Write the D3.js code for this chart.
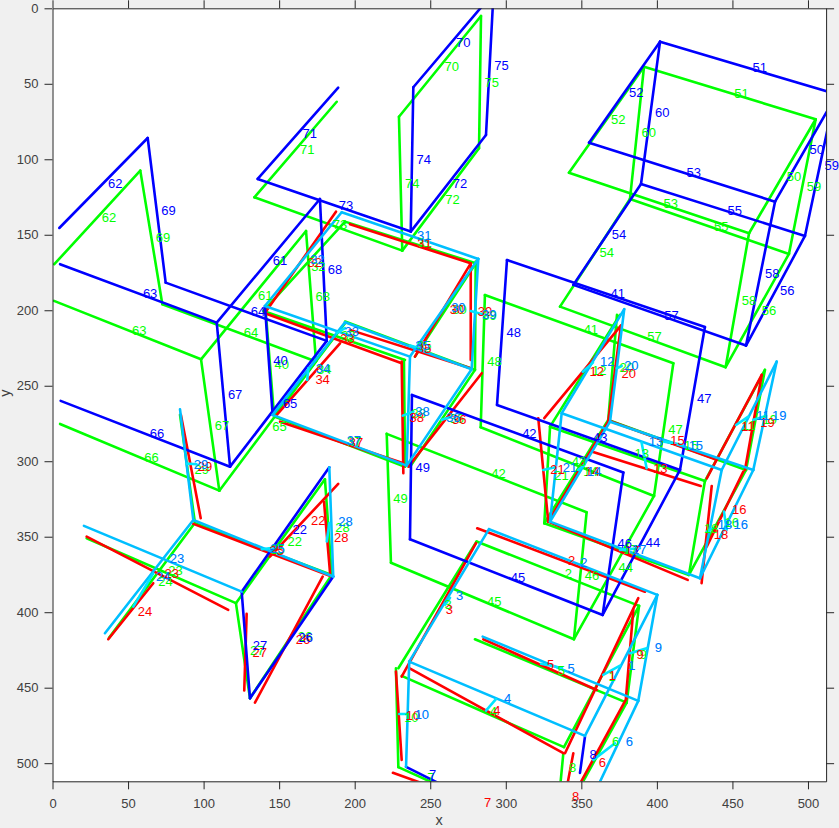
<!DOCTYPE html>
<html>
<head>
<meta charset="utf-8">
<script src="https://cdn.jsdelivr.net/npm/d3@7"></script>
<style>
  html, body { margin: 0; padding: 0; background: #f0f0f0; overflow: hidden; }
  text { font-family: "Liberation Sans", Arial, sans-serif; }
  .axis text { font-size: 13px; fill: #404040; }
  .axis path, .axis line { stroke: #262626; stroke-width: 1; }
  .num { font-size: 13px; }
</style>
</head>
<body>
<svg id="viz_area" width="839" height="828"></svg>
<script>
// every row: label, x1, y1, x2, y2 in image coordinates
const greenSegments = [
  [1,338.5,489.4,388.2,395.8],[2,280.7,353.2,388.2,395.8],[3,280.7,353.2,228.9,437.1],
  [4,231.1,442.2,338.5,489.4],[5,279.6,417.9,380,459.9],[6,380,459.9,351.3,511.9],
  [7,228.9,502.6,257.8,515.7],[8,338.1,493.4,336.3,512.2],[9,388.2,395.8,380,459.9],
  [10,227.3,437.1,228.9,502.6],[11,471.5,239.5,431.8,313.1],[12,375.6,203,329.3,277.1],
  [13,329.3,277.1,431.8,313.1],[14,367.8,272.7,325.5,341.1],[15,367.8,272.7,459,305.8],
  [16,459,305.8,421.2,375.3],[17,325.5,341.1,421.2,375.3],[18,431.8,313.1,421.2,375.3],
  [19,471.5,239.5,459,305.8],[20,373.6,203,367.8,272.7],[21,329.3,277.1,325.5,341.1],
  [22,180.3,311.9,121.4,394],[23,22.6,351,121.4,394],[24,93.2,342.2,37.4,417],
  [25,94.3,341.1,184.8,375.3],[26,184.8,375.3,130.7,457],[27,121.4,394,130.7,457],
  [28,180.3,311.9,184.8,375.3],[29,84.4,269.3,94.3,341.1],[30,280.1,168.9,239.9,230.7],
  [31,193.6,141.3,280.1,168.9],[32,193.6,141.3,139.5,200.5],[33,139.5,200.5,233.3,232.9],
  [34,193.6,208.6,147.3,269.3],[35,193.6,207.5,279.6,239.5],[36,279.6,239.5,236.6,303.6],
  [37,147.3,270.5,233.3,303.6],[38,232.6,232.9,233.3,303.6],[39,280.1,167.8,279.6,239.5],
  [40,141.3,203.1,146.6,269.3],[41,286.2,189.9,410.9,235.1],[42,221.2,281.9,353.5,333.8],
  [43,283.4,277.5,398.1,323],[44,398.1,323,345.1,417.9],[45,224,367.2,345.1,417.9],
  [46,353.5,333.8,345.1,417.9],[47,410.9,235.1,398.1,323],[48,286.2,189.9,283.4,277.5],
  [49,221.2,281.9,224,367.2],[50,461,149,505.1,73.5],[51,391.5,38.7,505.1,73.5],
  [52,391.5,38.7,341.8,108.9],[53,341.8,108.9,461,149],[54,382.2,126.3,335.9,197.6],
  [55,382.2,126.3,487.4,162.7],[56,487.4,162.7,445.5,237.7],[57,335.9,197.6,445.5,237.7],
  [58,461,149,445.5,237.7],[59,505.1,73.5,487.4,162.7],[60,391.5,38.7,382.2,126.3],
  [61,98.3,232.5,167.8,147.5],[62,1.2,169.5,58.1,107.5],[63,1,193.8,98.3,232.5],
  [64,72.7,196,174.4,233.9],[65,110.4,319.5,174.4,233.9],[66,5,275.3,110.4,319.5],
  [67,98.3,232.5,110.4,319.5],[68,167.8,147.5,174.4,233.9],[69,58.1,107.5,72.7,196],
  [70,229.3,71.8,283.6,5.1],[71,133.6,125.2,188.1,61.9],[72,282.3,92.7,231.5,160.5],
  [73,133.6,125.2,231.5,160.5],[74,229.3,71.8,231.5,160.5],[75,283.6,5.1,282.3,92.7]
]

const redSegments = [
  [1,339.2,493.4,387.7,390.7],[2,281.1,344.4,392.1,386.4],[3,280.3,354.3,231.1,442.6],
  [4,236.1,437.1,338.1,493.4],[5,285.1,417.9,360.2,451.5],[6,380,456.9,333.9,541.5],
  [7,225.3,506.4,336.5,546.2],[8,344.7,493.4,333.7,551.3],[9,384.4,398.5,379.5,457],
  [10,227.3,439.3,231.1,497.8],[11,469.4,242.8,433,311.3],[12,376.2,210.2,325.5,271.5],
  [13,356.8,293.6,429,316.4],[14,367.8,273.8,328.1,340],[15,369,273.3,439.6,299.1],
  [16,457.2,306.9,433,356.6],[17,328.1,340,420.4,378.6],[18,436.3,316.4,429.6,380.8],
  [19,469.4,242.8,458.3,305.8],[20,376.2,210.2,367.8,273.8],[21,321.5,271.5,328.1,340],
  [22,189.1,315,143.9,363.2],[23,22.6,349.9,116.3,398.5],[24,66.7,380.8,36.9,417.9],
  [25,93.2,341.5,184.8,376.4],[26,178.8,376.4,134,459.9],[27,128.5,401.1,126.9,451.9],
  [28,179.7,326.8,183.7,374.2],[29,85,269.3,98.1,337.7],[30,276.8,168.9,239.9,230.7],
  [31,196.9,143,276.8,168.9],[32,187.6,134.7,140.6,201.8],[33,140.6,202,231.1,235.1],
  [34,190.3,221.9,148.4,269.3],[35,196.9,213,276.3,238.2],[36,284.1,241.7,235.5,303.6],
  [37,150.6,273.8,232.2,301.3],[38,231.1,234,232.2,308],[39,276.8,168.9,276.8,232.9]
]

const blueSegments = [
  [7,234,502.4,255.2,513],[8,352.4,482.5,349.1,506.4],[22,183.2,304,125.2,386.4],
  [26,185.8,376.4,130.7,457],[27,125.2,386.4,130.7,457],
  [40,140.6,197.2,145.7,269.3],[41,300.8,166.7,431.8,211.1],[42,237.9,256.1,377.8,307.5],
  [43,294.2,262.7,415.3,305.8],[44,415.3,305.8,364.1,401.8],[45,236.6,351.7,364.1,401.8],
  [46,377.8,307.5,364.1,401.8],[47,431.8,211.1,415.3,305.8],[48,300.8,166.7,294.2,262.7],
  [49,237.9,256.1,236.6,351.7],[50,478.2,128.1,517.9,59.1],[51,402.1,22.1,518.5,56.8],
  [52,402.1,22.1,355.1,89],[53,355.1,89,478.2,128.1],[54,389.5,116.4,344.7,183.2],
  [55,389.5,116.4,498,150.8],[56,498,150.8,459,223.4],[57,344.7,183.2,459,223.4],
  [58,478.2,128.1,459,223.4],[59,498,150.8,517.9,56.8],[60,402.1,22.1,389.5,116.4],
  [61,108.7,208.2,177,126.3],[62,4.5,145.5,63,85.9],[63,5,169.5,108.7,208.2],
  [64,74.9,181.7,181.5,220.3],[65,117.5,303.6,181.5,220.3],[66,5.4,260,117.5,303.6],
  [67,108.7,208.2,117.5,303.6],[68,177,126.3,181.5,220.3],[69,63,85.9,74.9,181.7],
  [70,238.8,52.3,289.5,-7.5],[71,135.8,113,189.1,52.6],[72,237.1,147.9,286.9,83.9],
  [73,135.8,113,237.1,147.9],[74,238.8,52.3,237.1,147.9],[75,286.9,83.9,291.8,-8.8]
]

// blue runs right under these, so the same rows carry its labels too
const cyanSegments = [
  [1,400.3,388.5,352.4,481.9],[2,288.9,345,400.3,388.5],[3,236.1,432.7,288.9,345],
  [4,236.1,432.7,352.4,481.9],[5,284.7,416.2,387.7,458.7],[6,387.7,458.7,362,513],
  [9,400.3,388.5,387.7,458.7],[10,236.1,432.7,234,502.4],[11,479.3,234,442.9,305.8],
  [12,378.4,199.3,337,268.2],[13,337,268.2,442.9,305.8],[14,369,273.8,329.3,340],
  [15,369,273.8,463.8,305.8],[16,463.8,305.8,428.5,377.5],[17,329.3,340,428.5,377.5],
  [18,442.9,305.8,428.5,377.5],[19,479.3,234,463.8,305.8],[20,378.4,199.3,369,273.8],
  [21,337,268.2,329.3,340],[23,20.8,342.8,125.2,386.4],[24,93.2,338.9,34.7,413.9],
  [25,93.2,338.9,185.8,376.4],[28,183.2,304,185.8,376.4],[29,84.4,265.6,93.2,338.9],
  [30,281.8,166,236.6,230.7],[31,191.4,135.1,281.8,166],[32,191.4,135.1,140.6,197.2],
  [33,140.6,197.2,236.6,230.7],[34,193.6,208,145.7,269.3],[35,193.6,208,277.4,239.1],
  [36,277.4,239.1,234.4,302.9],[37,145.7,269.3,234.4,302.9],[38,236.6,230.7,234.4,302.9],
  [39,281.8,166,277.4,239.1]
]

// short cyan leaders near the labels, no number of their own
const cyanLeaders = [
  [286.9,465.2,293.5,457.6],[323.3,434.2,337.2,436.9],[364.5,441.5,375.6,435.4],
  [382.2,427.2,393.2,423.8],[357.9,497.8,372.3,486.8],[229.5,467.4,235.5,467.4],
  [259.8,395.1,263.1,390.5],[452.4,276,460.5,270.5],[463.8,272.6,472.2,270],
  [350.9,240.7,357.7,234.7],[373.4,238.4,376.7,236.9],[324.8,305.8,332.6,304],
  [348,305.8,351.8,302.5],[389.9,287.7,393.2,304.6],[404.7,287,417.5,289.2],
  [444.4,333.4,446.2,345.5],[433,346.6,436.9,344.4],[375.6,358.7,388.8,357.6],
  [231.8,269.8,238.8,267.2],[257.6,272.6,263.1,270.9],[276.8,200.5,286.2,203.1],
  [168.6,246.2,169.3,238.4],[236.6,223.4,243.2,225.2],[188.1,215.2,193.6,211.9],
  [88.8,301.6,95.4,302],[138.5,358.3,145.9,357.4],[181.5,353.2,183.2,341],
  [53.5,396.3,66.7,374.2]
]

const tickLabels = [0, 50, 100, 150, 200, 250, 300, 350, 400, 450, 500]

const margin = { top: 8.3, right: 12.9, bottom: 46.7, left: 52.5 }
const svgSize = { width: 839, height: 828 }
const graphSize = {
  width: svgSize.width - margin.left - margin.right,
  height: svgSize.height - margin.top - margin.bottom
}

const xScale = d3.scaleLinear().domain([0, 512]).range([0, graphSize.width])
const yScale = d3.scaleLinear().domain([0, 512]).range([0, graphSize.height])

const svg = d3.select('#viz_area')
const g = svg.append('g')
  .attr('transform', 'translate(' + margin.left + ',' + margin.top + ')')

g.append('rect')
  .attr('width', graphSize.width)
  .attr('height', graphSize.height)
  .attr('fill', 'white')

g.append('clipPath').attr('id', 'plot-clip')
  .append('rect')
  .attr('width', graphSize.width)
  .attr('height', graphSize.height)

const lineLayer = g.append('g').attr('clip-path', 'url(#plot-clip)')
const textLayer = g.append('g')

function drawLines(rows, color) {
  lineLayer.append('g').selectAll('line')
    .data(rows)
    .enter()
    .append('line')
    .attr('x1', function (d) { return xScale(d[d.length - 4]) })
    .attr('y1', function (d) { return yScale(d[d.length - 3]) })
    .attr('x2', function (d) { return xScale(d[d.length - 2]) })
    .attr('y2', function (d) { return yScale(d[d.length - 1]) })
    .attr('stroke', color)
    .attr('stroke-width', 2.6)
    .attr('stroke-linecap', 'round')
}

// label starts just right of the middle of its segment
function drawLabels(rows, color, opacity) {
  textLayer.append('g').selectAll('text')
    .data(rows)
    .enter()
    .append('text')
    .attr('class', 'num')
    .attr('x', function (d) {
      return xScale((d[1] + d[3]) / 2) + (d[0] < 40 ? 7 : 4.5)
    })
    .attr('y', function (d) { return yScale((d[2] + d[4]) / 2) })
    .attr('dy', '0.35em')
    .attr('fill', color)
    .attr('fill-opacity', opacity)
    .text(function (d) { return d[0] })
}

drawLines(greenSegments, '#00ff00')
drawLines(redSegments, '#ff0000')
drawLines(blueSegments, '#0000ff')
drawLines(cyanSegments, '#00bfff')
drawLines(cyanLeaders, '#00e5ff')

drawLabels(greenSegments, '#00ff00', 1)
drawLabels(redSegments, '#ff0000', 1)
drawLabels(cyanSegments, '#00bfff', 1)
drawLabels(cyanSegments, '#0000ff', 0.4)
drawLabels(blueSegments, '#0000ff', 1)

function drawAxis(axis, transform, showText) {
  const a = g.append('g')
    .attr('class', 'axis')
    .attr('transform', transform)
    .call(axis.tickValues(tickLabels).tickSizeInner(8).tickSizeOuter(0))
  a.select('.domain').attr('fill', 'none')
  if (!showText) a.selectAll('text').remove()
  return a
}

drawAxis(d3.axisBottom(xScale).tickPadding(9), 'translate(0,' + graphSize.height + ')', true)
drawAxis(d3.axisLeft(yScale).tickPadding(6), 'translate(0,0)', true)
drawAxis(d3.axisTop(xScale), 'translate(0,0)', false)
drawAxis(d3.axisRight(yScale), 'translate(' + graphSize.width + ',0)', false)

svg.append('text')
  .attr('x', 439)
  .attr('y', 825)
  .attr('text-anchor', 'middle')
  .attr('font-size', 14.5)
  .attr('fill', '#404040')
  .text('x')

svg.append('text')
  .attr('transform', 'translate(10,393) rotate(-90)')
  .attr('text-anchor', 'middle')
  .attr('font-size', 14.5)
  .attr('fill', '#404040')
  .text('y')
</script>
</body>
</html>
